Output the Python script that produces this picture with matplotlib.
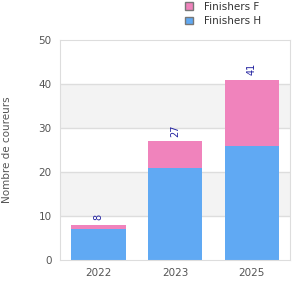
import matplotlib.pyplot as plt
import numpy as np

years = ['2022', '2023', '2025']
finishers_h = [7, 21, 26]
finishers_f = [1, 6, 15]

BLUE = '#60a9f3'
PINK = '#f083bc'
GRID = '#dddddd'
TXT = '#555555'

fig = plt.figure(figsize=(3, 3), dpi=100)
ax = fig.add_axes([0.2, 0.133, 0.767, 0.733])

x = np.arange(len(years))
totals = [h + f for h, f in zip(finishers_h, finishers_f)]

# alternating bands
for lo in (10, 30):
    ax.axhspan(lo, lo + 10, color='#f3f3f3', zorder=0, lw=0)
for yv in (10, 20, 30, 40):
    ax.axhline(yv, color=GRID, lw=1, zorder=1)

ax.bar(x, finishers_h, width=0.71, color=BLUE, label='Finishers H', zorder=2)
ax.bar(x, finishers_f, width=0.71, bottom=finishers_h, color=PINK, label='Finishers F', zorder=2)

for xi, t in zip(x, totals):
    ax.text(xi, t + 1.1, str(t), rotation=90, ha='center', va='bottom',
            fontsize=7, color='#2222a0')

ax.set_xlim(-0.5, 2.5)
ax.set_ylim(0, 50)
ax.set_yticks([0, 10, 20, 30, 40, 50])
ax.set_xticks(x)
ax.set_xticklabels(years)
ax.tick_params(length=0, labelsize=7.5, colors=TXT, pad=6)
ax.set_ylabel('Nombre de coureurs', fontsize=7.5, color=TXT, labelpad=19)
for s in ax.spines.values():
    s.set_color(GRID)

handles, labels = ax.get_legend_handles_labels()
leg = fig.legend(handles[::-1], labels[::-1], loc='upper left', bbox_to_anchor=(0.585, 1.025),
                 frameon=False, fontsize=7.5, handlelength=0.75, handleheight=0.75,
                 labelspacing=0.4, handletextpad=1.1)
for p in leg.get_patches():
    p.set_edgecolor('#777777')
    p.set_linewidth(1)
for t in leg.get_texts():
    t.set_color('#333333')

fig.savefig('out.png', dpi=100)
